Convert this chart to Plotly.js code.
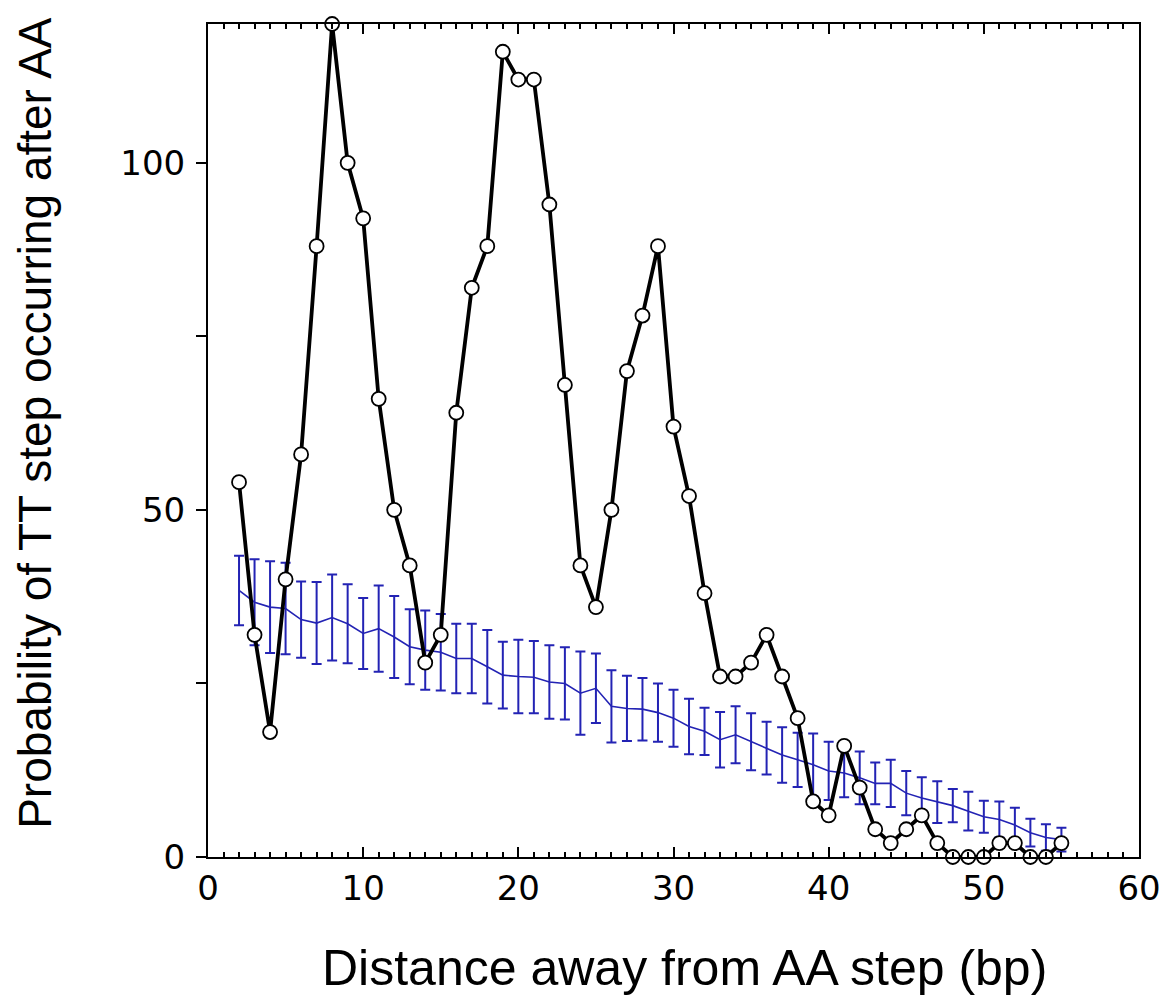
<!DOCTYPE html>
<html>
<head>
<meta charset="utf-8">
<script src="https://cdn.plot.ly/plotly-3.0.1.min.js"></script>
<style>html,body{margin:0;padding:0;background:#fff;}#chart{width:1163px;height:1007px;}</style>
</head>
<body>
<div id="chart"></div>
<script>
// Observed probability (black, open circles), distance 2..55 bp
const distance = [2,3,4,5,6,7,8,9,10,11,12,13,14,15,16,17,18,19,20,21,22,23,24,25,26,27,28,29,30,31,32,33,34,35,36,37,38,39,40,41,42,43,44,45,46,47,48,49,50,51,52,53,54,55];
const observed = [54,32,18,40,58,88,120,100,92,66,50,42,28,32,64,82,88,116,112,112,94,68,42,36,50,70,78,88,62,52,38,26,26,28,32,26,20,8,6,16,10,4,2,4,6,2,0,0,0,2,2,0,0,2];
// Expected (random) probability, blue with error bars
const expected = [38.4,36.7,36.0,35.8,34.2,33.7,34.5,33.6,32.2,32.9,31.7,30.3,29.8,29.5,28.6,28.6,27.4,26.2,26.0,25.9,25.2,25.0,23.6,24.3,21.7,21.4,21.3,20.8,20.0,18.8,18.1,16.9,17.6,16.6,15.7,14.7,14.0,13.3,12.4,12.1,11.4,10.6,10.6,9.2,8.5,7.9,7.4,6.6,5.8,5.4,4.6,3.5,2.8,2.5];
const expectedErr = [5.0,6.2,6.6,6.6,5.5,5.9,6.2,5.7,5.1,6.2,5.9,5.4,5.7,5.5,5.0,5.0,5.3,4.8,5.3,5.2,5.3,5.2,6.0,5.0,5.2,4.7,4.5,4.2,4.1,4.0,3.4,4.0,4.1,4.1,3.8,4.0,3.9,4.5,4.2,3.5,3.8,3.0,3.4,3.2,3.0,3.0,2.4,2.8,2.3,2.6,2.5,2.0,1.9,1.7];
const yTickVals = [0,25,50,75,100];
const yTickText = ['0','','50','','100'];
const xTitle = 'Distance away from AA step (bp)';
const yTitle = 'Probability of TT step occurring after AA';

const traces = [
  {
    x: distance, y: expected, type: 'scatter', mode: 'lines',
    line: {color: '#2323b4', width: 1.6},
    error_y: {type: 'data', array: expectedErr, visible: true, color: '#2323b4', thickness: 2, width: 5},
    hoverinfo: 'skip', cliponaxis: false
  },
  {
    x: distance, y: observed, type: 'scatter', mode: 'lines+markers',
    line: {color: '#000000', width: 3.8},
    marker: {symbol: 'circle', size: 14, color: '#ffffff', line: {color: '#000000', width: 1.8}},
    cliponaxis: false
  }
];

const layout = {
  width: 1163, height: 1007,
  margin: {l: 208, r: 24, t: 24, b: 150},
  paper_bgcolor: '#ffffff', plot_bgcolor: '#ffffff',
  showlegend: false,
  font: {family: 'DejaVu Sans, sans-serif', color: '#000'},
  xaxis: {
    range: [0, 60], dtick: 10, tick0: 0,
    showgrid: false, zeroline: false,
    showline: true, linecolor: '#000', linewidth: 2, mirror: 'ticks',
    ticks: 'inside', ticklen: 10, tickwidth: 2, tickcolor: '#000',
    minor: {dtick: 1, ticks: 'inside', ticklen: 5, tickwidth: 2, tickcolor: '#000', showgrid: false},
    tickfont: {family: 'DejaVu Sans, sans-serif', size: 34, color: '#000'},
    ticklabelstandoff: 0,
    fixedrange: true
  },
  yaxis: {
    range: [0, 120],
    tickmode: 'array', tickvals: yTickVals, ticktext: yTickText,
    showgrid: false, zeroline: false,
    showline: true, linecolor: '#000', linewidth: 2, mirror: true,
    ticks: 'outside', ticklen: 10, tickwidth: 2, tickcolor: '#000',
    tickfont: {family: 'DejaVu Sans, sans-serif', size: 34, color: '#000'},
    ticklabelstandoff: 4,
    fixedrange: true
  },
  annotations: [
    {text: xTitle, xref: 'paper', yref: 'paper', x: 0.512, y: -0.133, xanchor: 'center', yanchor: 'middle',
     showarrow: false, font: {family: 'Liberation Sans, Arial, sans-serif', size: 50, color: '#000'}},
    {text: yTitle, xref: 'paper', yref: 'paper', x: -0.186, y: 0.521, xanchor: 'center', yanchor: 'middle',
     textangle: -90, showarrow: false, font: {family: 'Liberation Sans, Arial, sans-serif', size: 46, color: '#000'}}
  ]
};

Plotly.newPlot('chart', traces, layout, {displayModeBar: false, staticPlot: true});
</script>
</body>
</html>
